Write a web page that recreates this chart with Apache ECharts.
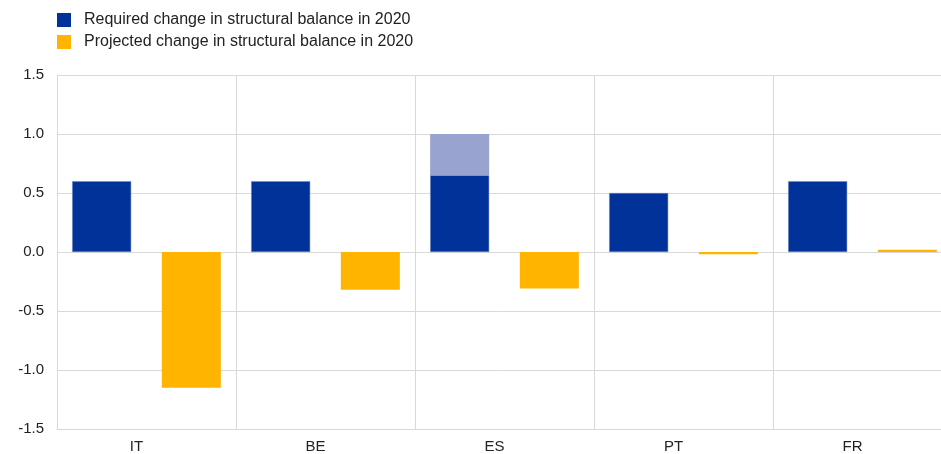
<!DOCTYPE html>
<html>
<head>
<meta charset="utf-8">
<script src="https://cdn.jsdelivr.net/npm/echarts@6/dist/echarts.min.js"></script>
<style>
  html, body { margin: 0; padding: 0; background: #fff; }
  #main { width: 941px; height: 454px; }
</style>
</head>
<body>
<div id="main"></div>
<script>
// data
var countries = ['IT', 'BE', 'ES', 'PT', 'FR'];
var required = [0.6, 0.6, 0.65, 0.5, 0.6];
// ES upper range of the required change (lighter part of the bar)
var requiredUpper = ['-', '-', 0.35, '-', '-'];
var projected = [-1.15, -0.32, -0.31, -0.02, 0.02];
var yTicks = [-1.5, 1.5, 0.5]; // min, max, interval

var myChart = echarts.init(document.getElementById('main'));
var gridColor = '#d9d9d9';
var font = '"Liberation Sans", Arial, sans-serif';

var option = {
  animation: false,
  textStyle: { fontFamily: font },
  legend: {
    left: 52,
    top: 7,
    orient: 'vertical',
    itemWidth: 14,
    itemHeight: 14,
    itemGap: 6,
    icon: 'rect',
    itemStyle: { borderWidth: 0 },
    textStyle: { fontSize: 16, lineHeight: 16, color: '#222', fontFamily: font, padding: [0, 0, 0, 8] },
    data: ['Required change in structural balance in 2020', 'Projected change in structural balance in 2020']
  },
  grid: {
    left: 57,
    width: 895,
    top: 75,
    bottom: 25,
    outerBoundsMode: 'none',
    containLabel: false
  },
  xAxis: {
    type: 'category',
    data: countries,
    axisLine: { onZero: false, lineStyle: { color: gridColor } },
    axisTick: { show: false },
    splitLine: { show: true, lineStyle: { color: gridColor } },
    axisLabel: { fontSize: 15, color: '#222', margin: 10, padding: [0, 20, 0, 0] }
  },
  yAxis: {
    type: 'value',
    min: yTicks[0],
    max: yTicks[1],
    interval: yTicks[2],
    axisLine: { show: true, lineStyle: { color: gridColor } },
    axisTick: { show: false },
    splitLine: { lineStyle: { color: gridColor } },
    axisLabel: {
      fontSize: 15, color: '#222', margin: 13,
      formatter: function (v) { return v.toFixed(1); }
    }
  },
  series: [
    {
      name: 'Required change in structural balance in 2020',
      type: 'bar',
      stack: 'req',
      barWidth: 59,
      barGap: '52%',
      itemStyle: { color: '#003299', borderColor: '#6f86c6', borderWidth: 0.5 },
      data: required
    },
    {
      name: 'Required upper',
      type: 'bar',
      stack: 'req',
      barWidth: 59,
      itemStyle: { color: '#99a3d0' },
      data: requiredUpper
    },
    {
      name: 'Projected change in structural balance in 2020',
      type: 'bar',
      barWidth: 59,
      barGap: '52%',
      itemStyle: { color: '#ffb400' },
      data: projected
    }
  ]
};

myChart.setOption(option);
</script>
</body>
</html>
